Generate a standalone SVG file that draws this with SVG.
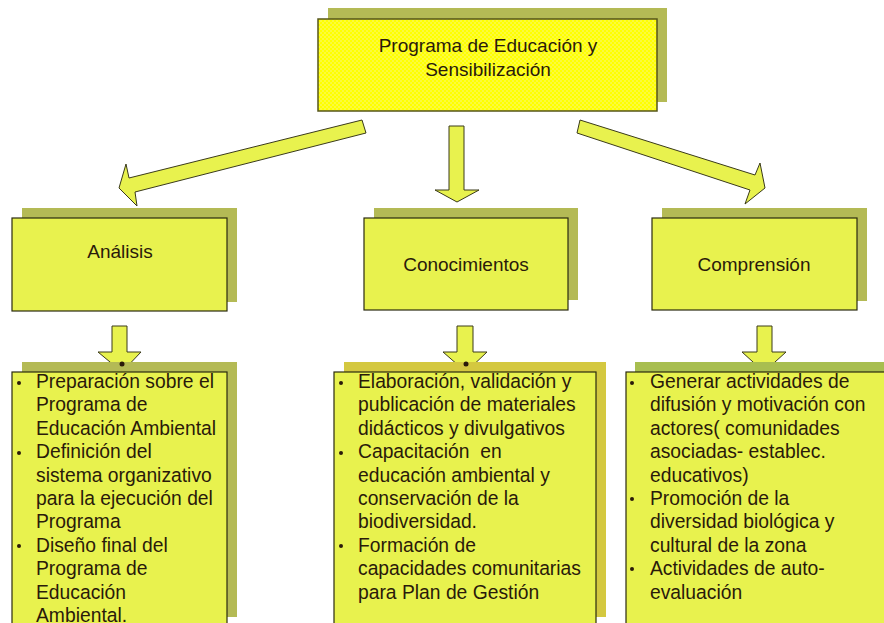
<svg xmlns="http://www.w3.org/2000/svg" width="884" height="623" viewBox="0 0 884 623">
<defs>
<pattern id="dots" width="4" height="4" patternUnits="userSpaceOnUse">
<rect width="4" height="4" fill="#ffff00"/>
<circle cx="1" cy="1" r="0.8" fill="#f6f68a"/>
<circle cx="3" cy="3" r="0.8" fill="#f6f68a"/>
</pattern>
<style>
.shadow{fill:#b4ba55;}
.box{fill:#e8f24e;stroke:#2a2a10;stroke-width:1.2;}
.arrow{fill:#e8f24e;stroke:#3a3a1a;stroke-width:1;stroke-linejoin:miter;}
.t{font-family:"Liberation Sans",Arial,sans-serif;font-size:19px;fill:#2a1a0a;}
.c{text-anchor:middle;}
.b{font-family:"Liberation Sans",Arial,sans-serif;font-size:19.3px;fill:#2a1a0a;}
.dot{fill:#2a1a0a;}
</style>
</defs>
<rect width="884" height="623" fill="#ffffff"/>

<g id="top">
<rect x="328" y="8" width="339" height="94" class="shadow" fill="#b0b858"/>
<rect x="318" y="19" width="339" height="92" fill="url(#dots)" stroke="#55551a" stroke-width="1.5"/>
<text class="t c" x="488" y="52">Programa de Educación y</text>
<text class="t c" x="488" y="76">Sensibilización</text>
</g>

<g id="analisis">
<rect x="22" y="208" width="215" height="94" class="shadow"/>
<rect x="12" y="218" width="215" height="93" class="box"/>
<text class="t c" x="120" y="258">Análisis</text>
</g>

<g id="conocimientos">
<rect x="374" y="208" width="204" height="92" class="shadow"/>
<rect x="364" y="218" width="204" height="92" class="box"/>
<text class="t c" x="466" y="271">Conocimientos</text>
</g>

<g id="comprension">
<rect x="662" y="208" width="205" height="93" class="shadow"/>
<rect x="652" y="218" width="205" height="92" class="box"/>
<text class="t c" x="754" y="271">Comprensión</text>
</g>

<g id="connectors">
<polygon class="arrow" points="362,120 129,178 126,164 119,188 137,206 135,192 366,133"/>
<polygon class="arrow" points="449,126 464,126 464,190 479,190 457,202 435,190 449,190"/>
<polygon class="arrow" points="580,120 755,175 760,163 765,188 745,204 750,190 577,133"/>
<polygon class="arrow" points="112,326 127,326 127,352 141,352 122,372 98,352 112,352"/>
<polygon class="arrow" points="457,326 473,326 473,352 487,352 466,372 443,352 457,352"/>
<polygon class="arrow" points="757,326 772,326 772,352 786,352 764,372 742,352 757,352"/>
</g>

<g id="lista-analisis">
<rect x="22" y="362" width="215" height="255" class="shadow"/>
<rect x="12" y="372" width="215" height="260" class="box"/>
<circle class="dot" cx="122" cy="364" r="2.5"/>
<circle class="dot" cx="19" cy="383" r="2"/>
<circle class="dot" cx="19" cy="453" r="2"/>
<circle class="dot" cx="19" cy="546" r="2"/>
<text class="b" x="36" y="388">Preparación sobre el</text>
<text class="b" x="36" y="411.4">Programa de</text>
<text class="b" x="36" y="434.8">Educación Ambiental</text>
<text class="b" x="36" y="458.2">Definición del</text>
<text class="b" x="36" y="481.6">sistema organizativo</text>
<text class="b" x="36" y="505">para la ejecución del</text>
<text class="b" x="36" y="528.4">Programa</text>
<text class="b" x="36" y="551.8">Diseño final del</text>
<text class="b" x="36" y="575.2">Programa de</text>
<text class="b" x="36" y="598.6">Educación</text>
<text class="b" x="36" y="622">Ambiental.</text>
</g>

<g id="lista-conocimientos">
<rect x="344" y="362" width="262" height="255" fill="#d4c840"/>
<rect x="334" y="372" width="262" height="260" class="box"/>
<circle class="dot" cx="466" cy="364" r="2.5"/>
<circle class="dot" cx="341" cy="383" r="2"/>
<circle class="dot" cx="341" cy="453" r="2"/>
<circle class="dot" cx="341" cy="546" r="2"/>
<text class="b" x="358" y="388">Elaboración, validación y</text>
<text class="b" x="358" y="411.4">publicación de materiales</text>
<text class="b" x="358" y="434.8">didácticos y divulgativos</text>
<text class="b" x="358" y="458.2" xml:space="preserve">Capacitación  en</text>
<text class="b" x="358" y="481.6">educación ambiental y</text>
<text class="b" x="358" y="505">conservación de la</text>
<text class="b" x="358" y="528.4">biodiversidad.</text>
<text class="b" x="358" y="551.8">Formación de</text>
<text class="b" x="358" y="575.2">capacidades comunitarias</text>
<text class="b" x="358" y="598.6">para Plan de Gestión</text>
</g>

<g id="lista-comprension">
<rect x="635" y="362" width="260" height="255" fill="#a8be50"/>
<rect x="626" y="372" width="270" height="260" class="box"/>
<circle class="dot" cx="632" cy="383" r="2"/>
<circle class="dot" cx="632" cy="499" r="2"/>
<circle class="dot" cx="632" cy="569" r="2"/>
<text class="b" x="650" y="388">Generar actividades de</text>
<text class="b" x="650" y="411.4">difusión y motivación con</text>
<text class="b" x="650" y="434.8">actores( comunidades</text>
<text class="b" x="650" y="458.2">asociadas- establec.</text>
<text class="b" x="650" y="481.6">educativos)</text>
<text class="b" x="650" y="505">Promoción de la</text>
<text class="b" x="650" y="528.4">diversidad biológica y</text>
<text class="b" x="650" y="551.8">cultural de la zona</text>
<text class="b" x="650" y="575.2">Actividades de auto-</text>
<text class="b" x="650" y="598.6">evaluación</text>
</g>
</svg>
